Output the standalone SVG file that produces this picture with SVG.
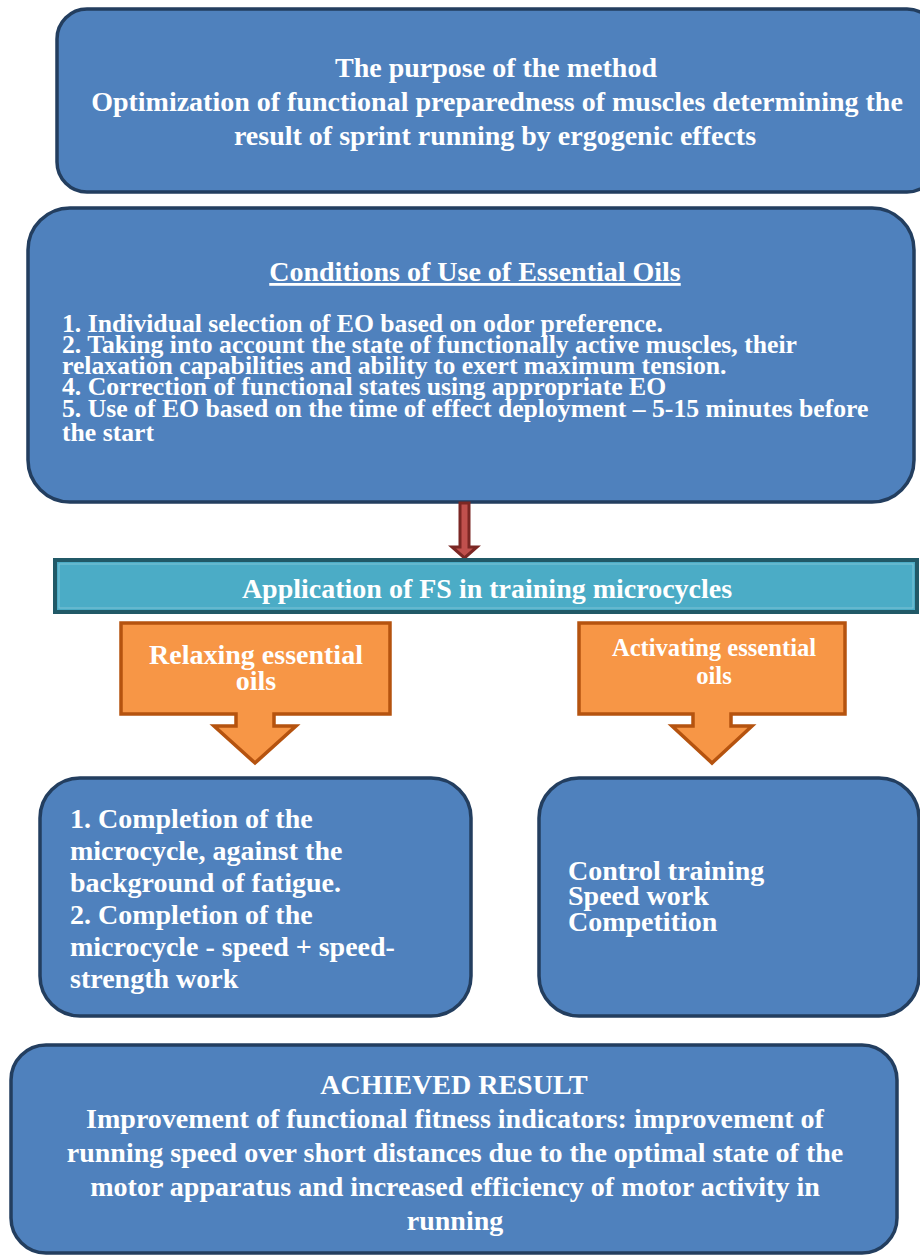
<svg xmlns="http://www.w3.org/2000/svg" width="920" height="1256" viewBox="0 0 920 1256">
<style>
.box{fill:#4F81BD;stroke:#233E5F;stroke-width:3.5}
.bar{fill:#4BACC6;stroke:#215967;stroke-width:4}
.org{fill:#F79646;stroke:#B5530F;stroke-width:3.5;stroke-linejoin:miter}
text{font-family:"Liberation Serif","Times New Roman",serif;font-weight:bold;fill:#FFFFFF}
.c{text-anchor:middle}
.t28{font-size:28px}
.t26{font-size:25.7px}
.t25{font-size:24.6px}
</style>
<rect width="920" height="1256" fill="#FFFFFF"/>
<g id="purpose">
<rect class="box" x="57" y="9" width="880" height="183" rx="30" ry="30"/>
<text class="c t28" x="496" y="77">The purpose of the method</text>
<text class="c t28" x="497" y="111">Optimization of functional preparedness of muscles determining the</text>
<text class="c t28" x="495" y="145">result of sprint running by ergogenic effects</text>
</g>
<g id="conditions">
<rect class="box" x="28" y="208" width="886" height="294" rx="42" ry="42"/>
<text class="c t28" x="475" y="281" text-decoration="underline">Conditions of Use of Essential Oils</text>
<text class="t26" x="62" y="332">1. Individual selection of EO based on odor preference.</text>
<text class="t26" x="62" y="353">2. Taking into account the state of functionally active muscles, their</text>
<text class="t26" x="62" y="374">relaxation capabilities and ability to exert maximum tension.</text>
<text class="t26" x="62" y="395">4. Correction of functional states using appropriate EO</text>
<text class="t26" x="62" y="417">5. Use of EO based on the time of effect deployment – 5-15 minutes before</text>
<text class="t26" x="62" y="441">the start</text>
</g>
<g id="connectors">
<path d="M460,503 L469,503 L469,547 L477,547 L464.5,558 L452,547 L460,547 Z" fill="#C0504D" stroke="#7B2724" stroke-width="3" stroke-linejoin="miter"/>
</g>
<g id="application">
<rect class="bar" x="55" y="560" width="862" height="52"/>
<rect x="59" y="564" width="854" height="44" fill="none" stroke="#7FC3D6" stroke-width="1"/>
<text class="c t28" x="487" y="598">Application of FS in training microcycles</text>
</g>
<g id="relaxing">
<path class="org" d="M121,623 L390,623 L390,714 L274,714 L274,726 L296,726 L255,763 L214,726 L236,726 L236,714 L121,714 Z"/>
<text class="c t28" x="256" y="664">Relaxing essential</text>
<text class="c t28" x="256" y="690">oils</text>
</g>
<g id="activating">
<path class="org" d="M579,623 L845,623 L845,714 L731,714 L731,726 L752,726 L712,763 L672,726 L693,726 L693,714 L579,714 Z"/>
<text class="c t25" x="714" y="656">Activating essential</text>
<text class="c t25" x="714" y="684">oils</text>
</g>
<g id="relaxing-uses">
<rect class="box" x="40" y="778" width="431" height="238" rx="40" ry="40"/>
<text class="t28" x="70" y="828">1. Completion of the</text>
<text class="t28" x="70" y="860">microcycle, against the</text>
<text class="t28" x="70" y="892">background of fatigue.</text>
<text class="t28" x="70" y="924">2. Completion of the</text>
<text class="t28" x="70" y="956">microcycle - speed + speed-</text>
<text class="t28" x="70" y="988">strength work</text>
</g>
<g id="activating-uses">
<rect class="box" x="539" y="778" width="380" height="238" rx="40" ry="40"/>
<text class="t28" x="568" y="880">Control training</text>
<text class="t28" x="568" y="905">Speed work</text>
<text class="t28" x="568" y="931">Competition</text>
</g>
<g id="result">
<rect class="box" x="11" y="1045" width="886" height="208" rx="35" ry="35"/>
<text class="c t28" x="454" y="1094">ACHIEVED RESULT</text>
<text class="c t28" x="455" y="1128">Improvement of functional fitness indicators: improvement of</text>
<text class="c t28" x="455" y="1162">running speed over short distances due to the optimal state of the</text>
<text class="c t28" x="455" y="1196">motor apparatus and increased efficiency of motor activity in</text>
<text class="c t28" x="455" y="1230">running</text>
</g>
</svg>
